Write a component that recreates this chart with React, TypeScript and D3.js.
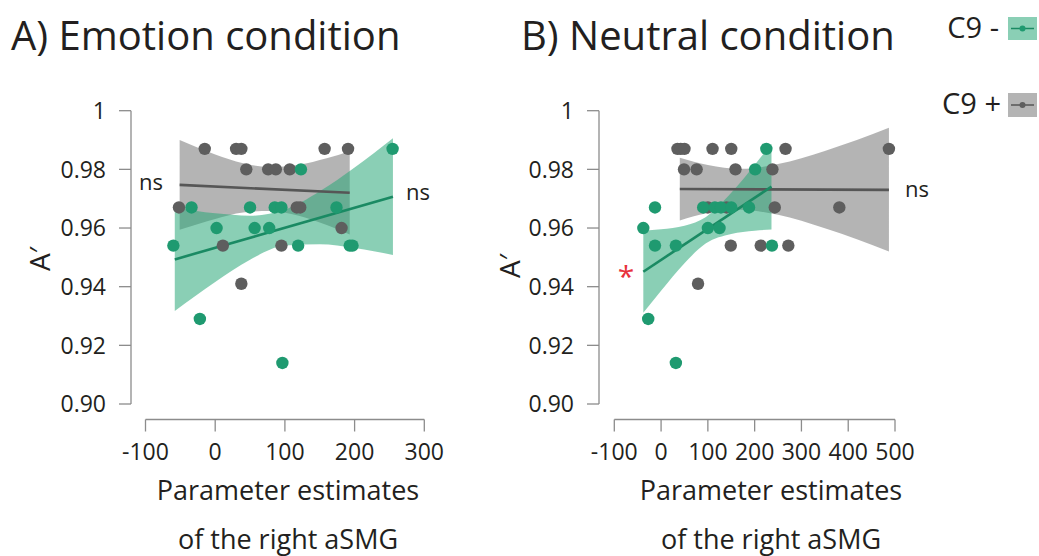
import React from "react";
import * as d3 from "d3";

// ---------- data ----------
const yTickValues = [0.9, 0.92, 0.94, 0.96, 0.98, 1];
const yTickLabels = ["0.90", "0.92", "0.94", "0.96", "0.98", "1"];
const xTicksEmotion = [-100, 0, 100, 200, 300];
const xTicksNeutral = [-100, 0, 100, 200, 300, 400, 500];

// Emotion condition, C9 + (grey)
const emoPlusX = [-52, -15, 11, 30, 37.5, 37.5, 44.6, 76, 87, 95, 107, 117, 122, 157, 181.3, 190.6];
const emoPlusY = [0.967, 0.987, 0.954, 0.987, 0.987, 0.941, 0.98, 0.98, 0.98, 0.954, 0.98, 0.967, 0.967, 0.987, 0.96, 0.987];
// Emotion condition, C9 - (green)
const emoMinusX = [-60, -34, -22, 2, 50, 56.6, 77.5, 85.4, 95, 96.4, 119, 123, 174, 193, 197, 254.5];
const emoMinusY = [0.954, 0.967, 0.929, 0.96, 0.967, 0.96, 0.96, 0.967, 0.967, 0.914, 0.954, 0.98, 0.967, 0.954, 0.954, 0.987];

// Neutral condition, C9 + (grey)
const neuPlusX = [35, 42, 50, 110, 150, 266, 487, 49, 76, 159, 238, 100, 140, 243, 381, 149, 213, 272, 79];
const neuPlusY = [0.987, 0.987, 0.987, 0.987, 0.987, 0.987, 0.987, 0.98, 0.98, 0.98, 0.98, 0.967, 0.967, 0.967, 0.967, 0.954, 0.954, 0.954, 0.941];
// Neutral condition, C9 - (green)
const neuMinusX = [-38, -27.5, -13, -13, 31.6, 31.6, 90, 115, 128, 150, 188, 100, 125, 201, 225, 237];
const neuMinusY = [0.96, 0.929, 0.967, 0.954, 0.954, 0.914, 0.967, 0.967, 0.967, 0.967, 0.967, 0.96, 0.96, 0.98, 0.987, 0.954];

// regression lines (endpoints)
const emoPlusLineX = [-51, 193];
const emoPlusLineY = [0.9747, 0.972];
const emoMinusLineX = [-58, 255];
const emoMinusLineY = [0.9493, 0.9707];
const neuPlusLineX = [40, 487];
const neuPlusLineY = [0.9733, 0.973];
const neuMinusLineX = [-38, 236];
const neuMinusLineY = [0.9451, 0.9741];

// confidence bands
const emoPlusBandX = [-51, 0, 40, 77, 120, 160, 193];
const emoPlusBandHi = [0.99, 0.9851, 0.9821, 0.9808, 0.9816, 0.9838, 0.9862];
const emoPlusBandLo = [0.9594, 0.9631, 0.9653, 0.9658, 0.9642, 0.961, 0.9578];
const emoMinusBandX = [-58, 0, 50, 100, 150, 200, 255];
const emoMinusBandHi = [0.9669, 0.965, 0.9642, 0.9662, 0.9725, 0.9806, 0.9906];
const emoMinusBandLo = [0.9317, 0.9416, 0.9492, 0.954, 0.9545, 0.9532, 0.9508];
const neuPlusBandX = [40, 100, 170, 250, 350, 487];
const neuPlusBandHi = [0.984, 0.9815, 0.9802, 0.9818, 0.9863, 0.9942];
const neuPlusBandLo = [0.9626, 0.9651, 0.9662, 0.9645, 0.9599, 0.952];
const neuMinusBandX = [-38, 0, 50, 96, 150, 200, 236];
const neuMinusBandHi = [0.9591, 0.9596, 0.9608, 0.9638, 0.972, 0.9815, 0.9887];
const neuMinusBandLo = [0.9311, 0.9386, 0.948, 0.9548, 0.958, 0.9591, 0.9595];

// ---------- styles ----------
const FONT = "'Open Sans', 'Noto Sans', sans-serif";
const TXT = "#231f20";
const AXIS = "#8c8c8c";
const GREEN_PT = "#1f9a70";
const GREEN_LINE = "#1a8a63";
const GREEN_BAND = "#2aa878";
const GREEN_OP = 0.55;
const GREY_PT = "#5e5e5e";
const GREY_LINE = "#565656";
const GREY_BAND = "#6a6a6a";
const GREY_OP = 0.5;

type Series = {
  x: number[];
  y: number[];
  lineX: number[];
  lineY: number[];
  bandX: number[];
  bandHi: number[];
  bandLo: number[];
};

type PanelProps = {
  title: string;
  titleX: number;
  axisX: number;
  xRange: [number, number];
  xDomain: [number, number];
  xTicks: number[];
  labelCx: number;
  yLabelX: number;
  yLabelY: number;
  grey: Series;
  green: Series;
  children?: React.ReactNode;
};

const yScale = d3.scaleLinear().domain([0.9, 1]).range([404, 110.7]);
const X_AXIS_Y = 419.5;

function Panel(p: PanelProps) {
  const x = d3.scaleLinear().domain(p.xDomain).range(p.xRange);
  const area = (s: Series) =>
    d3
      .area<number>()
      .x((_, i) => x(s.bandX[i]))
      .y0((_, i) => yScale(s.bandLo[i]))
      .y1((_, i) => yScale(s.bandHi[i]))
      .curve(d3.curveMonotoneX)(s.bandX) || "";
  const line = (s: Series) =>
    d3
      .line<number>()
      .x((_, i) => x(s.lineX[i]))
      .y((_, i) => yScale(s.lineY[i]))(s.lineX) || "";
  return (
    <g>
      <text x={p.titleX} y={50} fontFamily={FONT} fontSize={40} fill={TXT}>
        {p.title}
      </text>
      {/* y axis */}
      <line x1={p.axisX} x2={p.axisX} y1={yScale(1)} y2={yScale(0.9)} stroke={AXIS} strokeWidth={1.3} />
      {yTickValues.map((v, i) => (
        <g key={"yt" + i}>
          <line x1={p.axisX - 12} x2={p.axisX} y1={yScale(v)} y2={yScale(v)} stroke={AXIS} strokeWidth={1.3} />
          <text
            x={p.axisX - 25}
            y={yScale(v)}
            dy="0.36em"
            textAnchor="end"
            fontFamily={FONT}
            fontSize={23}
            fill={TXT}
          >
            {yTickLabels[i]}
          </text>
        </g>
      ))}
      {/* x axis */}
      <line x1={p.xRange[0]} x2={p.xRange[1]} y1={X_AXIS_Y} y2={X_AXIS_Y} stroke={AXIS} strokeWidth={1.3} />
      {p.xTicks.map((v) => (
        <g key={"xt" + v}>
          <line x1={x(v)} x2={x(v)} y1={X_AXIS_Y} y2={X_AXIS_Y + 12} stroke={AXIS} strokeWidth={1.3} />
          <text x={x(v)} y={460} textAnchor="middle" fontFamily={FONT} fontSize={23} fill={TXT}>
            {v}
          </text>
        </g>
      ))}
      <text x={p.labelCx} y={500} textAnchor="middle" fontFamily={FONT} fontSize={27} fill={TXT}>
        Parameter estimates
      </text>
      <text x={p.labelCx} y={549} textAnchor="middle" fontFamily={FONT} fontSize={27} fill={TXT}>
        of the right aSMG
      </text>
      <text
        transform={`translate(${p.yLabelX},${p.yLabelY}) rotate(-90)`}
        textAnchor="middle"
        dy="0.36em"
        fontFamily={FONT}
        fontSize={28}
        fill={TXT}
      >
        A′
      </text>
      {/* bands */}
      <path d={area(p.grey)} fill={GREY_BAND} fillOpacity={GREY_OP} />
      <path d={area(p.green)} fill={GREEN_BAND} fillOpacity={GREEN_OP} />
      <path d={line(p.grey)} stroke={GREY_LINE} strokeWidth={2.6} fill="none" />
      <path d={line(p.green)} stroke={GREEN_LINE} strokeWidth={2.6} fill="none" />
      {p.grey.x.map((v, i) => (
        <circle key={"gp" + i} cx={x(v)} cy={yScale(p.grey.y[i])} r={6.2} fill={GREY_PT} />
      ))}
      {p.green.x.map((v, i) => (
        <circle key={"np" + i} cx={x(v)} cy={yScale(p.green.y[i])} r={6.2} fill={GREEN_PT} />
      ))}
      {p.children}
    </g>
  );
}

export default function App() {
  return (
    <svg
      width={1039}
      height={556}
      style={{ position: "absolute", left: 0, top: 0, background: "#fff" }}
    >
      <rect width={1039} height={556} fill="#fff" />
      <Panel
        title="A) Emotion condition"
        titleX={11}
        axisX={131}
        xDomain={[-100, 300]}
        xRange={[145.5, 424.3]}
        xTicks={xTicksEmotion}
        labelCx={288}
        yLabelX={40}
        yLabelY={259}
        grey={{ x: emoPlusX, y: emoPlusY, lineX: emoPlusLineX, lineY: emoPlusLineY, bandX: emoPlusBandX, bandHi: emoPlusBandHi, bandLo: emoPlusBandLo }}
        green={{ x: emoMinusX, y: emoMinusY, lineX: emoMinusLineX, lineY: emoMinusLineY, bandX: emoMinusBandX, bandHi: emoMinusBandHi, bandLo: emoMinusBandLo }}
      >
        <text x={139} y={190} fontFamily={FONT} fontSize={22} fill={TXT}>ns</text>
        <text x={406} y={200} fontFamily={FONT} fontSize={22} fill={TXT}>ns</text>
      </Panel>
      <Panel
        title="B) Neutral condition"
        titleX={521}
        axisX={599}
        xDomain={[-100, 500]}
        xRange={[614.3, 895]}
        xTicks={xTicksNeutral}
        labelCx={771}
        yLabelX={510}
        yLabelY={266}
        grey={{ x: neuPlusX, y: neuPlusY, lineX: neuPlusLineX, lineY: neuPlusLineY, bandX: neuPlusBandX, bandHi: neuPlusBandHi, bandLo: neuPlusBandLo }}
        green={{ x: neuMinusX, y: neuMinusY, lineX: neuMinusLineX, lineY: neuMinusLineY, bandX: neuMinusBandX, bandHi: neuMinusBandHi, bandLo: neuMinusBandLo }}
      >
        <text x={905} y={197} fontFamily={FONT} fontSize={22} fill={TXT}>ns</text>
        <text x={626} y={287} textAnchor="middle" fontFamily={FONT} fontSize={30} fill="#e8323c">*</text>
      </Panel>
      {/* legend */}
      <text x={999} y={38} textAnchor="end" fontFamily={FONT} fontSize={29} fill={TXT}>C9 -</text>
      <rect x={1008} y={17} width={29} height={23} fill={GREEN_BAND} fillOpacity={GREEN_OP} />
      <line x1={1011} x2={1034} y1={28.5} y2={28.5} stroke={GREEN_LINE} strokeWidth={1.5} />
      <circle cx={1022.5} cy={28.5} r={3} fill={GREEN_PT} />
      <text x={1001} y={114} textAnchor="end" fontFamily={FONT} fontSize={29} fill={TXT}>C9 +</text>
      <rect x={1008} y={93} width={29} height={24} fill={GREY_BAND} fillOpacity={GREY_OP} />
      <line x1={1011} x2={1034} y1={105} y2={105} stroke={GREY_LINE} strokeWidth={1.5} />
      <circle cx={1022.5} cy={105} r={3} fill={GREY_PT} />
    </svg>
  );
}
